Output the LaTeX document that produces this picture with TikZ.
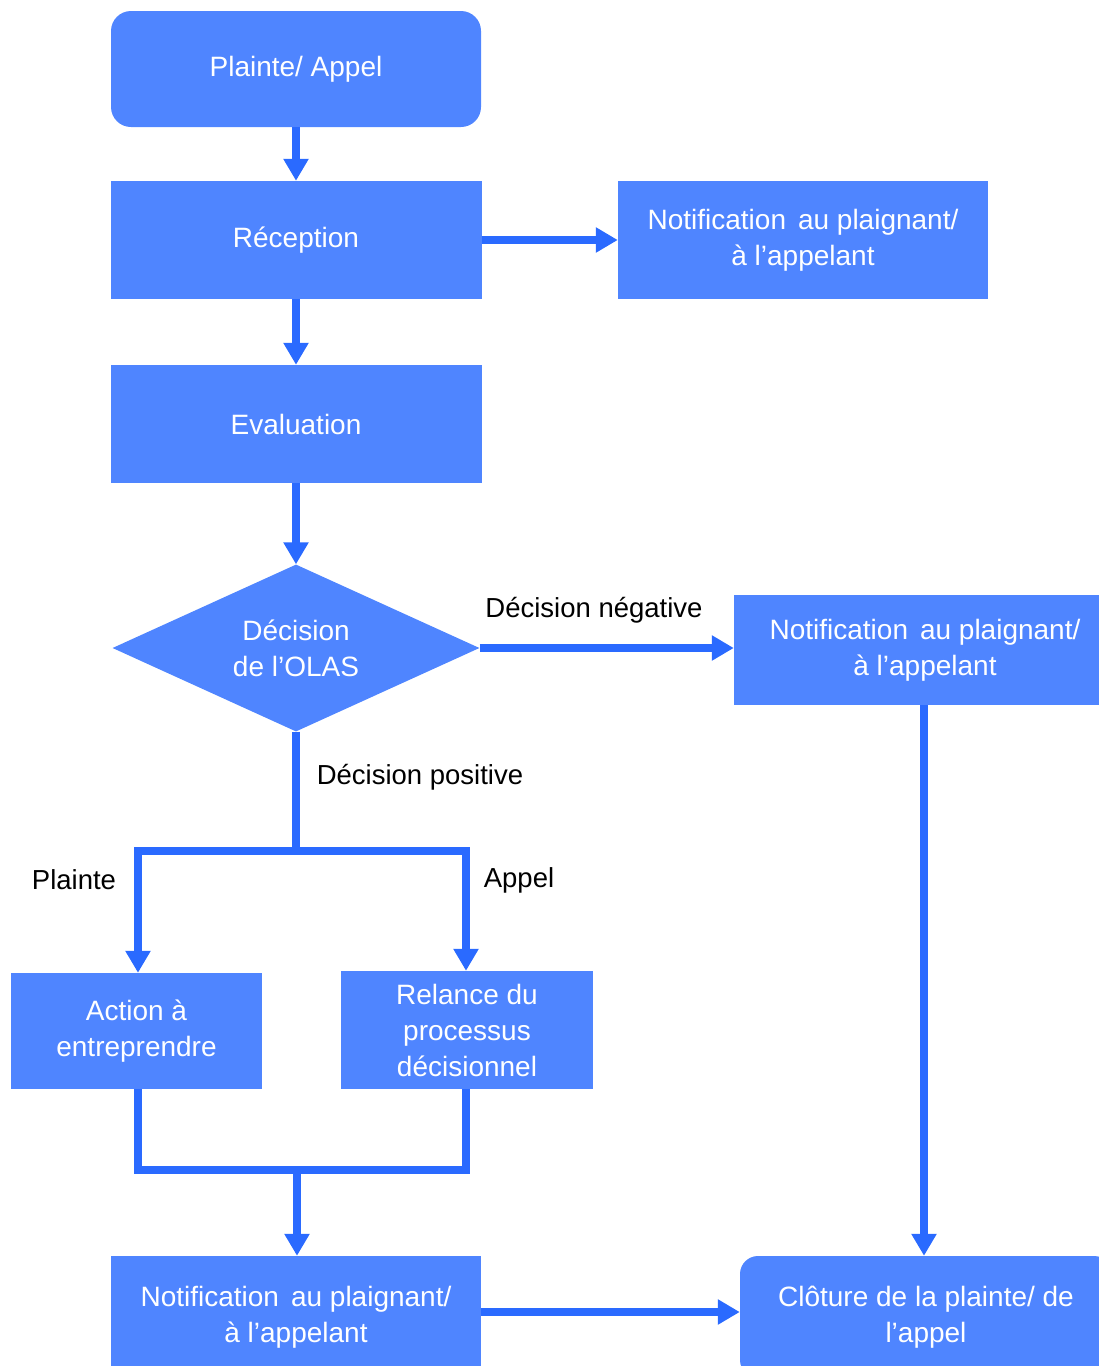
\documentclass[tikz,border=0pt]{standalone}
\usepackage{fontspec}
\setmainfont{Liberation Sans}
\usetikzlibrary{arrows.meta,shapes.geometric}
\definecolor{boxblue}{RGB}{79,133,255}
\definecolor{arrowblue}{RGB}{42,106,255}
\begin{document}
\begin{tikzpicture}[x=1pt,y=-1pt,
  box/.style={fill=boxblue,draw=none,text=white,inner sep=0pt,align=center,
    font=\fontsize{28}{36}\selectfont},
  lbl/.style={text=black,inner sep=0pt,font=\fontsize{27.5}{34}\selectfont},
  conn/.style={draw=arrowblue,line width=8pt,line join=miter},
  arr/.style={conn,-{Triangle[width=24pt,length=22pt]}}]
\useasboundingbox (0,0) rectangle (1099,1366);

\node[box,rounded corners=20pt,minimum width=370pt,minimum height=116pt] (pa) at (296,69) {Plainte/ Appel};
\node[box,minimum width=371pt,minimum height=118pt] (rec) at (296,240) {Réception};
\node[box,minimum width=370pt,minimum height=118pt] (n1) at (803,240) {Notification\hspace{0.15em} au plaignant/\\à l’appelant};
\node[box,minimum width=371pt,minimum height=118pt] (ev) at (296,424) {Evaluation};
\node[box,shape=diamond,aspect=2.2,minimum width=367pt,minimum height=167pt] (dec) at (296,648) {Décision\\de l’OLAS};
\node[box,minimum width=382pt,minimum height=110pt] (n2) at (925,650) {Notification\hspace{0.15em} au plaignant/\\à l’appelant};
\node[box,minimum width=251pt,minimum height=116pt] (act) at (136.5,1031) {Action à\\entreprendre};
\node[box,minimum width=252pt,minimum height=118pt] (rel) at (467,1030) {Relance du\\processus\\décisionnel};
\node[box,minimum width=370pt,minimum height=122pt] (n3) at (296,1317) {Notification\hspace{0.15em} au plaignant/\\à l’appelant};
\node[box,rounded corners=18pt,minimum width=372pt,minimum height=122pt] (clo) at (926,1317) {Clôture de la plainte/ de\\l’appel};

\node[lbl] (lneg) at (594,610) {Décision négative};
\node[lbl] (lpos) at (420,777) {Décision positive};
\node[lbl] (lpl) at (74,880) {Plainte};
\node[lbl] (lap) at (519,880) {Appel};

\coordinate (splitM) at (296,851);
\coordinate (splitL) at (138,851);
\coordinate (splitR) at (466,851);
\coordinate (joinL) at (138,1170);
\coordinate (joinR) at (466,1170);
\coordinate (joinM) at (297,1170);

\draw[arr] (pa.south) -- (rec.north);
\draw[arr] (rec.east) -- (n1.west);
\draw[arr] (rec.south) -- (ev.north);
\draw[arr] (ev.south) -- (dec.north);
\draw[arr] (dec.east) -- (n2.west |- dec.east);
\draw[conn] (dec.south) -- (splitM);
\draw[arr] (splitM) -| (act.north -| splitL);
\draw[arr] (splitM) -| (rel.north -| splitR);
\draw[conn] (act.south -| joinL) -- (joinL) -- (joinR) -- (rel.south -| joinR);
\draw[arr] (joinM) -- (n3.north -| joinM);
\draw[arr] (n3.east |- 0,1312) -- (clo.west |- 0,1312);
\draw[arr] (n2.south -| 924,0) -- (clo.north -| 924,0);
\end{tikzpicture}
\end{document}
